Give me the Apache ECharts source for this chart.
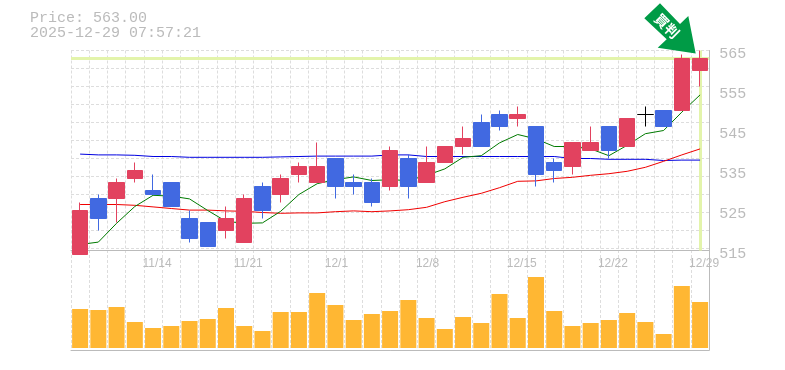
<!DOCTYPE html>
<html lang="en">

<head>
    <meta charset="UTF-8">
    <title>Price chart</title>
    <script src="https://cdn.jsdelivr.net/npm/echarts@6/dist/echarts.min.js"></script>
    <style>
        html, body { margin: 0; padding: 0; background: #fff; }
        #chart { width: 785px; height: 370px; }
    </style>
</head>

<body>
    <div id="chart"></div>
    <script>
        var dates = ['11/10', '11/11', '11/12', '11/13', '11/14', '11/17', '11/18', '11/19', '11/20', '11/21', '11/25', '11/26', '11/27', '11/28', '12/1', '12/2', '12/3', '12/4', '12/5', '12/8', '12/9', '12/10', '12/11', '12/12', '12/15', '12/16', '12/17', '12/18', '12/19', '12/22', '12/23', '12/24', '12/25', '12/26', '12/29'];
        var tickLabels = ['11/14', '11/21', '12/1', '12/8', '12/15', '12/22', '12/29'];
        var opens = [514, 528, 528, 533, 530, 532, 523, 522, 520, 517, 531, 529, 534, 532, 538, 532, 532, 531, 538, 532, 537, 541, 547, 549, 548, 546, 537, 536, 540, 546, 541, 549, 550, 550, 560];
        var closes = [525, 523, 532, 535, 529, 526, 518, 516, 523, 528, 525, 533, 536, 536, 531, 531, 527, 540, 531, 537, 541, 543, 541, 546, 549, 534, 535, 542, 542, 540, 548, 549, 546, 563, 563];
        var lows = [514, 520, 522, 532, 529, 526, 517, 516, 518, 517, 523, 527, 532, 532, 528, 529, 526, 530, 528, 532, 537, 539, 541, 545, 546, 531, 532, 534, 540, 538, 541, 546, 546, 550, 556];
        var highs = [527, 529, 533, 537, 534, 532, 525, 522, 526, 529, 532, 534, 537, 542, 538, 534, 533, 541, 539, 541, 541, 546, 549, 550, 551, 546, 538, 542, 546, 546, 548, 551, 550, 564, 565];
        var maShort = [516.5, 517.1, 521.8, 526, 528.8, 528.6, 527.9, 525, 522.3, 521.8, 521.9, 524.8, 529, 531.7, 532.7, 533.4, 532.5, 532.7, 532.5, 533.8, 535.4, 538.3, 538.7, 541.9, 544, 542.9, 541, 541, 540.4, 538.7, 541.3, 544.2, 545, 549.6, 553.9];
        var maMid = [526.5, 526.5, 526.5, 526.3, 525.9, 525.5, 525.1, 525.1, 524.9, 524.8, 524.5, 524.3, 524.4, 524.4, 524.7, 524.9, 524.7, 524.9, 525.2, 525.8, 527.2, 528.3, 529.3, 530.7, 532.3, 532.4, 533, 533.3, 533.8, 534.2, 534.8, 535.8, 537.3, 538.9, 540.4];
        var maLong = [539.1, 538.9, 538.9, 538.8, 538.5, 538.5, 538.3, 538.3, 538.3, 538.3, 538.3, 538.4, 538.5, 538.6, 538.6, 538.6, 538.6, 538.9, 538.9, 538.5, 538.5, 538.5, 538.5, 538.5, 538.5, 538.5, 538.5, 538, 538, 537.8, 537.8, 537.8, 537.5, 537.6, 537.6];
        var volumes = [39, 38, 41, 26, 20, 22, 27, 29, 40, 22, 17, 36, 36, 55, 43, 28, 34, 37, 48, 30, 19, 31, 25, 54, 30, 71, 37, 22, 25, 28, 35, 26, 14, 62, 46];
        var lastPrice = 563;
        var lastDate = '12/29';
        var priceText = 'Price: 563.00';
        var timeText = '2025-12-29 07:57:21';
        var signalText = '買判';

        var candles = dates.map(function (d, i) {
            return [opens[i], closes[i], lows[i], highs[i]];
        });

        var monoFont = '"Liberation Mono", monospace';
        var dashLine = { show: true, lineStyle: { color: '#ddd', type: [3, 2], width: 1 } };
        var edgeColor = '#bbb';

        var myChart = echarts.init(document.getElementById('chart'), null, { renderer: 'canvas' });
        myChart.setOption({
            animation: false,
            backgroundColor: '#fff',
            grid: [
                { left: 71, width: 638.2, top: 50.5, height: 200 },
                { left: 71, width: 638.2, top: 250, height: 100 }
            ],
            xAxis: [{
                type: 'category',
                gridIndex: 0,
                data: dates,
                axisLine: { onZero: false, lineStyle: { color: edgeColor, width: 1 } },
                axisTick: { show: false },
                axisLabel: { show: false },
                splitLine: Object.assign({ interval: 0 }, dashLine)
            }, {
                type: 'category',
                gridIndex: 1,
                data: dates,
                position: 'top',
                axisLine: { show: false },
                axisTick: { show: false },
                axisLabel: {
                    show: true,
                    interval: function (i, v) { return tickLabels.indexOf(v) >= 0; },
                    inside: true,
                    margin: 8,
                    formatter: function (v) { return v.length > 4 ? '{long|' + v + '}' : '{short|' + v + '}'; },
                    rich: {
                        long: { color: '#bbb', fontSize: 12, fontFamily: '"Liberation Sans", sans-serif', padding: [0, 0, 0, 8] },
                        short: { color: '#bbb', fontSize: 12, fontFamily: '"Liberation Sans", sans-serif', padding: [0, 0, 0, 2] }
                    },
                    hideOverlap: false
                },
                splitLine: Object.assign({ interval: 0 }, dashLine)
            }, {
                type: 'category',
                gridIndex: 1,
                data: dates,
                position: 'bottom',
                axisLine: { onZero: false, lineStyle: { color: edgeColor, width: 1 } },
                axisTick: { show: false },
                axisLabel: { show: false }
            }],
            yAxis: [{
                type: 'value',
                gridIndex: 0,
                position: 'right',
                min: 515,
                max: 565,
                interval: 10,
                axisLine: { show: true, lineStyle: { color: edgeColor, width: 1 } },
                axisTick: { show: false },
                splitLine: { show: false },
                axisLabel: {
                    color: '#bbb',
                    fontSize: 15,
                    fontFamily: monoFont,
                    margin: 10,
                    verticalAlign: 'top',
                    lineHeight: 8
                }
            }, {
                // dashed rows of the background net, every 18px, unrelated to the price labels
                type: 'value',
                gridIndex: 0,
                position: 'left',
                inverse: true,
                min: 0,
                max: 200,
                interval: 18,
                axisLine: { show: false },
                axisTick: { show: false },
                axisLabel: { show: false },
                splitLine: dashLine
            }, {
                type: 'value',
                gridIndex: 1,
                position: 'right',
                min: -2,
                max: 98,
                axisLine: { show: true, lineStyle: { color: edgeColor, width: 1 } },
                axisTick: { show: false },
                axisLabel: { show: false },
                splitLine: { show: false }
            }],
            series: [{
                // pale marker lines for the last price and last date
                type: 'line',
                xAxisIndex: 0,
                yAxisIndex: 0,
                data: [],
                z: 1,
                silent: true,
                markLine: {
                    z: 1,
                    silent: true,
                    symbol: 'none',
                    animation: false,
                    label: { show: false },
                    lineStyle: { color: '#e3f4ab', type: 'solid', width: 3 },
                    data: [{ yAxis: lastPrice }, { xAxis: lastDate }]
                }
            }, {
                type: 'line', name: 'MA long', xAxisIndex: 0, yAxisIndex: 0, data: maLong, z: 2,
                showSymbol: false, lineStyle: { color: '#0000e0', width: 1 }
            }, {
                type: 'line', name: 'MA mid', xAxisIndex: 0, yAxisIndex: 0, data: maMid, z: 2,
                showSymbol: false, lineStyle: { color: '#f00000', width: 1 }
            }, {
                type: 'line', name: 'MA short', xAxisIndex: 0, yAxisIndex: 0, data: maShort, z: 2,
                showSymbol: false, lineStyle: { color: '#007a00', width: 1 }
            }, {
                type: 'candlestick',
                xAxisIndex: 0,
                yAxisIndex: 0,
                data: candles,
                barWidth: 16,
                clip: false,
                z: 3,
                itemStyle: {
                    color: '#e2425f',
                    color0: '#4169e1',
                    borderColor: '#e2425f',
                    borderColor0: '#4169e1',
                    borderColorDoji: '#000',
                    borderWidth: 1
                }
            }, {
                type: 'bar',
                xAxisIndex: 1,
                yAxisIndex: 2,
                data: volumes,
                barWidth: 16,
                itemStyle: { color: '#ffb733' }
            }],
            graphic: [{
                type: 'text', left: 30, top: 11, z: 10, silent: true,
                style: { text: priceText, fill: '#bbb', font: '15px ' + monoFont }
            }, {
                type: 'text', left: 30, top: 26, z: 10, silent: true,
                style: { text: timeText, fill: '#bbb', font: '15px ' + monoFont }
            }, {
                // the green signal arrow
                type: 'polygon', z: 10, silent: true,
                shape: { points: [[660, 3.3], [680, 24], [688.3, 16], [695.7, 53.5], [657.7, 47.7], [666.7, 39.3], [644.3, 18.3]] },
                style: { fill: '#009b46' }
            }, {
                type: 'text', z: 11, silent: true,
                x: 667, y: 26, rotation: -Math.PI / 4,
                style: { text: signalText, fill: '#fff', font: 'bold 14px "Noto Sans CJK JP"', align: 'center', verticalAlign: 'middle' }
            }]
        });
    </script>
</body>

</html>
